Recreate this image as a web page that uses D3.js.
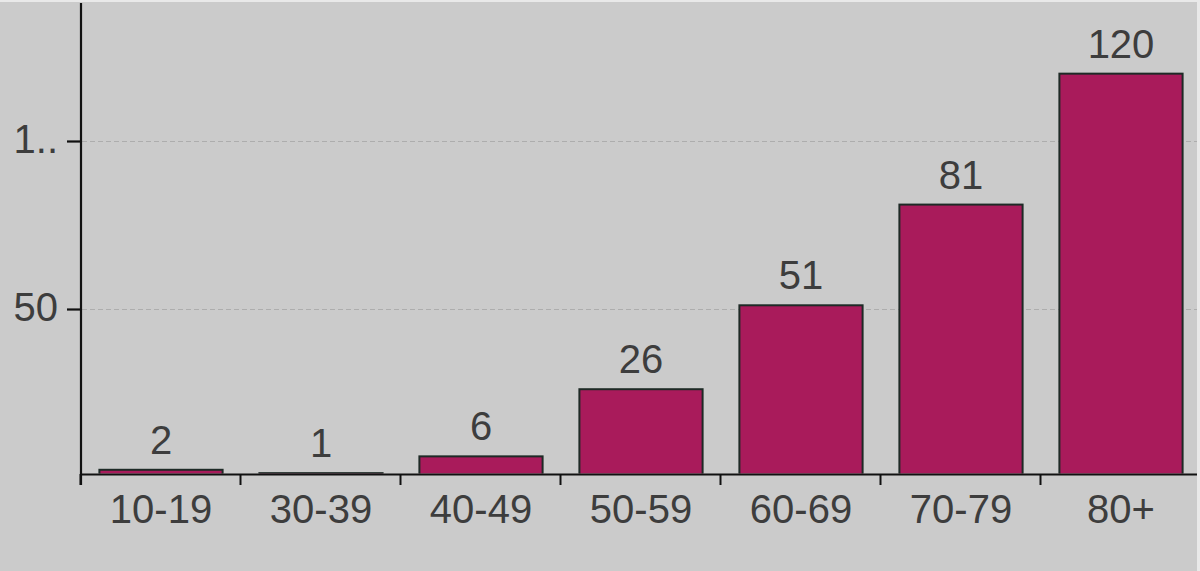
<!DOCTYPE html>
<html>
<head>
<meta charset="utf-8">
<script src="https://cdn.jsdelivr.net/npm/d3@7"></script>
<style>
  html, body { margin: 0; padding: 0; background: #e9e9e9; }
  svg { display: block; }
  text { font-family: "Liberation Sans", Arial, sans-serif; }
</style>
</head>
<body>
<svg id="chart" width="1200" height="571"></svg>
<script>
const categories = ["10-19", "30-39", "40-49", "50-59", "60-69", "70-79", "80+"];
const values = [2, 1, 6, 26, 51, 81, 120];
const yTickValues = [50, 100];
const yTickLabels = ["50", "1.."];

const svg = d3.select("#chart");
const W = 1200, H = 571;
const left = 81, right = 1201, zeroY = 476.5, baseY = 474;

svg.append("rect").attr("x", 0).attr("y", 2).attr("width", 1197).attr("height", H - 2).attr("fill", "#cbcbcb");

const x = d3.scaleBand().domain(categories).range([left, right]).paddingInner(0.23).paddingOuter(0.115);
const xb = d3.scaleBand().domain(categories).range([left - 1, right - 1]).padding(0);
const y = d3.scaleLinear().domain([0, 100]).range([zeroY, 140.8]);

// gridlines
svg.append("g").selectAll("line").data(yTickValues).join("line")
  .attr("x1", left + 1).attr("x2", 1197)
  .attr("y1", d => Math.round(y(d)) + 0.5).attr("y2", d => Math.round(y(d)) + 0.5)
  .attr("stroke", "#adadad").attr("stroke-width", 1.2).attr("stroke-dasharray", "5,3");

// bars
svg.append("clipPath").attr("id", "clip").append("rect")
  .attr("x", 0).attr("y", 0).attr("width", W).attr("height", baseY - 0.5);
svg.append("g").attr("clip-path", "url(#clip)").selectAll("rect").data(values).join("rect")
  .attr("x", (d, i) => x(categories[i]))
  .attr("width", x.bandwidth())
  .attr("y", d => y(d))
  .attr("height", d => zeroY - y(d))
  .attr("fill", "#a91b5b")
  .attr("stroke", "#1e2a26")
  .attr("stroke-width", 2);

// value labels
svg.append("g").selectAll("text").data(values).join("text")
  .attr("x", (d, i) => x(categories[i]) + x.bandwidth() / 2)
  .attr("y", d => y(d) - 16)
  .attr("text-anchor", "middle")
  .attr("font-size", 40)
  .attr("fill", "#3d3d3d")
  .text(d => d);

// x axis
const xAxisG = svg.append("g");
xAxisG.append("line").attr("x1", left - 1).attr("x2", 1197).attr("y1", baseY + 0.5).attr("y2", baseY + 0.5)
  .attr("stroke", "#111").attr("stroke-width", 2.2);
xAxisG.selectAll("line.tick").data(categories).join("line").attr("class", "tick")
  .attr("x1", d => xb(d) + 0.5).attr("x2", d => xb(d) + 0.5)
  .attr("y1", baseY).attr("y2", baseY + 11)
  .attr("stroke", "#111").attr("stroke-width", 2);
xAxisG.selectAll("text").data(categories).join("text")
  .attr("x", d => x(d) + x.bandwidth() / 2)
  .attr("y", 523)
  .attr("text-anchor", "middle")
  .attr("font-size", 40)
  .attr("fill", "#3d3d3d")
  .text(d => d);

// y axis
const yAxisG = svg.append("g");
yAxisG.append("line").attr("x1", left).attr("x2", left).attr("y1", 3).attr("y2", baseY + 11)
  .attr("stroke", "#111").attr("stroke-width", 2.2);
yAxisG.selectAll("line.tick").data(yTickValues).join("line").attr("class", "tick")
  .attr("x1", 67).attr("x2", left)
  .attr("y1", d => Math.round(y(d)) + 0.5).attr("y2", d => Math.round(y(d)) + 0.5)
  .attr("stroke", "#111").attr("stroke-width", 2.2);
yAxisG.selectAll("text").data(yTickValues).join("text")
  .attr("x", 58)
  .attr("y", d => y(d) + 12)
  .attr("text-anchor", "end")
  .attr("font-size", 40)
  .attr("fill", "#3d3d3d")
  .text((d, i) => yTickLabels[i]);
</script>
</body>
</html>
